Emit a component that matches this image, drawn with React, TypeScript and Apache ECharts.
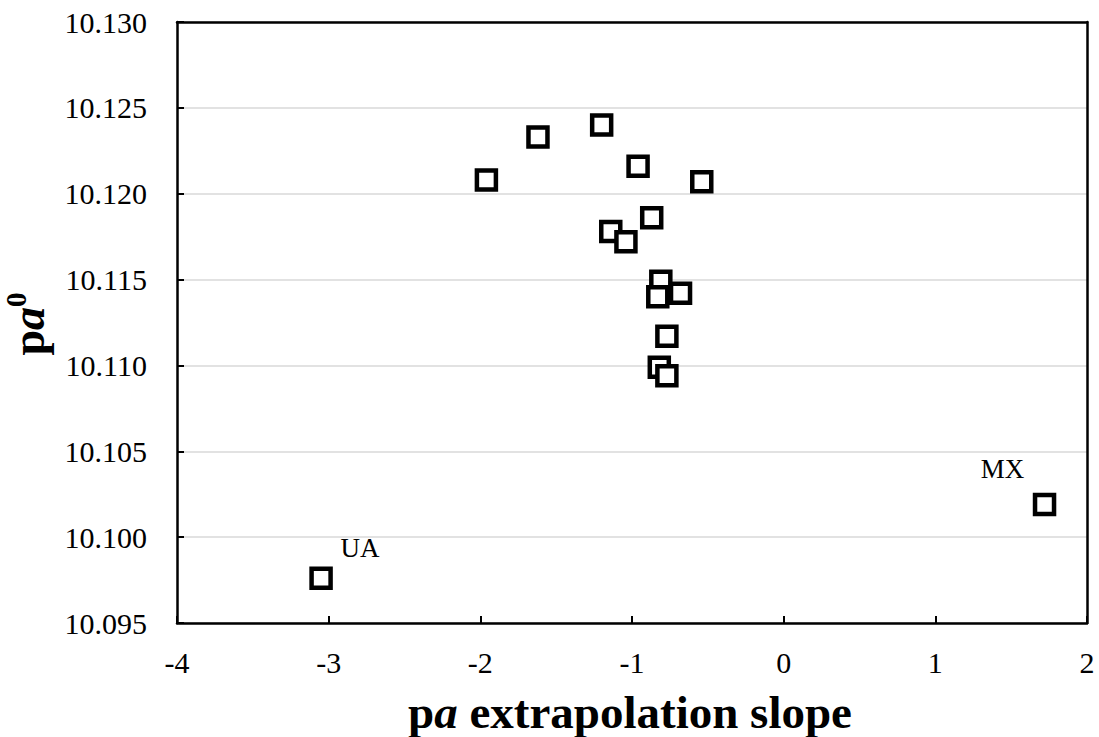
import React, { useEffect, useRef } from "react";
import * as echarts from "echarts";

const slopes = [-3.05, 1.72, -1.96, -1.62, -1.2, -0.96, -0.54, -1.14, -1.04, -0.87, -0.81, -0.83, -0.68, -0.77, -0.82, -0.77];
const pa0 = [10.0976, 10.1019, 10.1208, 10.1233, 10.124, 10.1216, 10.1207, 10.1178, 10.1172, 10.1186, 10.1149, 10.1140, 10.1142, 10.1117, 10.1099, 10.1094];
const pointLabels = ["UA", "MX", "", "", "", "", "", "", "", "", "", "", "", "", "", ""];
const xTicks = [-4, 2, 1];
const yTicks = [10.095, 10.13, 0.005];

export default function App() {
  const ref = useRef<HTMLDivElement>(null);
  useEffect(() => {
    const chart = echarts.init(ref.current!, null, { renderer: "svg" });
    const font = "Liberation Serif";
    const data = slopes.map((s, i) => {
      const item: any = { value: [s, pa0[i]] };
      if (pointLabels[i] === "UA") {
        item.label = { show: true, formatter: "UA", offset: [39, -30], position: "inside" };
      } else if (pointLabels[i] === "MX") {
        item.label = { show: true, formatter: "MX", offset: [-42, -36], position: "inside" };
      }
      return item;
    });
    const frameAxis = {
      show: true,
      axisLine: { show: true, onZero: false, lineStyle: { color: "#000", width: 2.5 } },
      axisTick: { show: false },
      axisLabel: { show: false },
      splitLine: { show: false },
    };
    chart.setOption({
      animation: false,
      backgroundColor: "#fff",
      textStyle: { fontFamily: font },
      grid: {
        left: 177, top: 22, width: 910, height: 601,
        show: false,
      },
      xAxis: [
        {
          type: "value", min: xTicks[0], max: xTicks[1], interval: xTicks[2],
          position: "bottom",
          axisLine: { show: true, onZero: false, lineStyle: { color: "#000", width: 2.5 } },
          axisTick: { show: true, inside: true, length: 7, lineStyle: { color: "#000", width: 2 } },
          axisLabel: { color: "#000", fontSize: 30, fontFamily: font, margin: 24 },
          splitLine: { show: false },
        },
        { ...frameAxis, type: "value", min: xTicks[0], max: xTicks[1], interval: xTicks[2], position: "top" },
      ],
      yAxis: [
        {
          type: "value", min: yTicks[0], max: yTicks[1], interval: yTicks[2],
          position: "left",
          axisLine: { show: true, onZero: false, lineStyle: { color: "#000", width: 2.5 } },
          axisTick: { show: true, inside: true, length: 7, lineStyle: { color: "#000", width: 2 } },
          axisLabel: { color: "#000", fontSize: 30, fontFamily: font, margin: 30, formatter: (v: number) => v.toFixed(3) },
          splitLine: { show: true, lineStyle: { color: "#d9d9d9", width: 1.5 } },
        },
        { ...frameAxis, type: "value", min: yTicks[0], max: yTicks[1], interval: yTicks[2], position: "right" },
      ],
      graphic: [
        {
          type: "text", x: 630, y: 712, z: 10,
          style: {
            text: "{b|p}{bi|a}{b| extrapolation slope}",
            textAlign: "center", textVerticalAlign: "middle",
            rich: {
              b: { fontSize: 47, fontWeight: "bold", fontFamily: font, fill: "#000" },
              bi: { fontSize: 47, fontWeight: "bold", fontStyle: "italic", fontFamily: font, fill: "#000" },
            },
          },
        },
        {
          type: "text", x: 28, y: 324, rotation: Math.PI / 2, z: 10,
          style: {
            text: "{b|p}{bi|a}{sup|0}",
            textAlign: "center", textVerticalAlign: "middle",
            rich: {
              b: { fontSize: 46, fontWeight: "bold", fontFamily: font, fill: "#000" },
              bi: { fontSize: 46, fontWeight: "bold", fontStyle: "italic", fontFamily: font, fill: "#000" },
              sup: { fontSize: 29, fontWeight: "bold", fontFamily: font, fill: "#000", padding: [0, 0, 24, 0] },
            },
          },
        },
      ],
      series: [
        {
          type: "scatter",
          symbol: "rect",
          symbolSize: 19,
          itemStyle: { color: "#fff", borderColor: "#000", borderWidth: 4.5, opacity: 1 },
          label: { show: false, color: "#000", fontSize: 27, fontFamily: font },
          emphasis: { disabled: true },
          data,
        },
      ],
    });
    return () => chart.dispose();
  }, []);
  return <div ref={ref} style={{ position: "absolute", left: 0, top: 0, width: 1099, height: 737 }} />;
}
